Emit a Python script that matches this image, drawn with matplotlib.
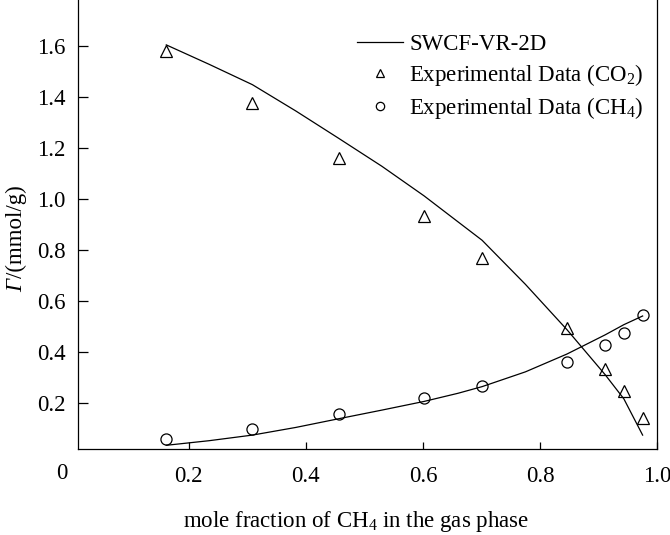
import numpy as np
import matplotlib
matplotlib.use("Agg")
import matplotlib.pyplot as plt
from matplotlib import transforms

plt.rcParams['font.family'] = ['Liberation Serif', 'DejaVu Serif']
plt.rcParams['mathtext.fontset'] = 'custom'
plt.rcParams['mathtext.rm'] = 'Liberation Serif'
plt.rcParams['mathtext.it'] = 'Liberation Serif:italic'

# experimental points
x_exp = [0.162, 0.309, 0.456, 0.602, 0.701, 0.846, 0.911, 0.943, 0.975]
co2_exp = [1.580, 1.378, 1.160, 0.934, 0.769, 0.494, 0.334, 0.246, 0.141]
ch4_exp = [0.058, 0.099, 0.158, 0.219, 0.267, 0.359, 0.429, 0.476, 0.544]

# SWCF-VR-2D model curves
x_fit = [0.162, 0.235, 0.309, 0.383, 0.456, 0.530, 0.602, 0.660, 0.701, 0.775, 0.846, 0.911, 0.943, 0.975]
co2_fit = [1.604, 1.528, 1.448, 1.345, 1.238, 1.128, 1.012, 0.910, 0.838, 0.665, 0.487, 0.311, 0.216, 0.074]
ch4_fit = [0.034, 0.052, 0.074, 0.104, 0.138, 0.172, 0.206, 0.238, 0.264, 0.322, 0.392, 0.467, 0.507, 0.541]

xticks = [0.2, 0.4, 0.6, 0.8, 1.0]
xticklabels = ['0.2', '0.4', '0.6', '0.8', '1.0']
yticks = [0.2, 0.4, 0.6, 0.8, 1.0, 1.2, 1.4, 1.6]

fs = 16.5

fig = plt.figure(figsize=(6.7, 5.35), dpi=100)
ax = fig.add_axes([0.117, 0.161, 0.864, 0.839])

ax.plot(x_fit, co2_fit, color='black', lw=0.9, label='SWCF-VR-2D')
ax.plot(x_fit, ch4_fit, color='black', lw=0.9)
ax.plot(x_exp, co2_exp, ls='none', marker='^', ms=8.5, mfc='none', mec='black',
        mew=0.9, label='Experimental Data (CO$_\\mathregular{2}$)')
ax.plot(x_exp, ch4_exp, ls='none', marker='o', ms=8, mfc='none', mec='black',
        mew=0.9, label='Experimental Data (CH$_\\mathregular{4}$)')

ax.set_xlim(0.012, 0.996)
ax.set_ylim(0.02, 1.78)
ax.set_xticks(xticks)
ax.set_xticklabels(xticklabels)
ax.set_yticks(yticks)
ax.set_yticklabels([f'{v:.1f}' for v in yticks])
ax.tick_params(axis='both', direction='in', labelsize=fs, width=0.9)
ax.tick_params(axis='y', length=7, pad=9)
ax.tick_params(axis='x', length=5, pad=12)
ax.spines['top'].set_visible(False)
for s in ['left', 'right', 'bottom']:
    ax.spines[s].set_linewidth(0.9)

# "0" at the origin corner, in line with the x tick labels
trans = transforms.blended_transform_factory(ax.transData, ax.transAxes)
ax.text(-0.016, -0.032, '0', transform=trans, fontsize=fs, ha='center', va='top')

ax.set_xlabel('mole fraction of CH$_\\mathregular{4}$ in the gas phase', fontsize=fs)
ax.xaxis.set_label_coords(0.48, -0.135)

# y label: italic Gamma followed by upright unit
ylab_pos = (-0.097, 0.35)
ax.annotate('Γ', xy=ylab_pos, xycoords='axes fraction', rotation=90,
            rotation_mode='anchor', ha='left', va='baseline', fontsize=fs,
            fontstyle='italic', annotation_clip=False)
ax.annotate('/(mmol/g)', xy=ylab_pos, xycoords='axes fraction', xytext=(0, 10),
            textcoords='offset points', rotation=90, rotation_mode='anchor',
            ha='left', va='baseline', fontsize=fs, annotation_clip=False)

ax.legend(loc='upper left', bbox_to_anchor=(0.465, 0.945), frameon=False, fontsize=fs,
          handlelength=2.0, handletextpad=0.3, labelspacing=0.3, markerscale=0.75,
          borderaxespad=0)

fig.savefig('out.png', dpi=100)
